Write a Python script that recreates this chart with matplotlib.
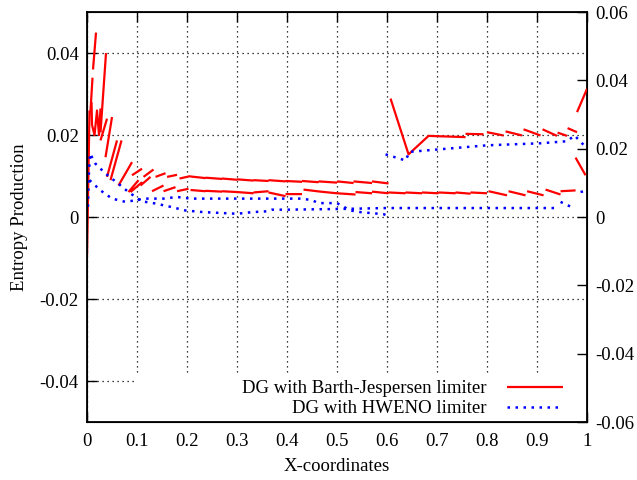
import matplotlib
matplotlib.use("Agg")
import matplotlib.pyplot as plt
from matplotlib.patches import Rectangle
import numpy as np

nan = np.nan

# DG with Barth-Jespersen limiter: piecewise linear cells, nan breaks the line between cells
red_x = [0.000, 0.005, nan, 0.007, 0.011, nan, 0.012, 0.018, nan,
         0.009, 0.010, 0.015, 0.020, 0.024, 0.027, nan,
         0.027, 0.038, nan, 0.027, 0.040, nan, 0.037, 0.050, nan,
         0.040, 0.060, nan, 0.047, 0.069, nan, 0.063, 0.090, nan,
         0.083, 0.103, nan, 0.090, 0.110, nan, 0.113, 0.133, nan,
         0.137, 0.157, nan, 0.160, 0.180, nan, 0.185, 0.207, nan,
         0.087, 0.110, nan, 0.107, 0.127, nan, 0.130, 0.153, nan,
         0.153, 0.177, nan, 0.180, 0.203, nan,
         # upper branch 0.2 - 0.6
         0.207, 0.237, nan, 0.237, 0.270, nan, 0.270, 0.300, nan,
         0.300, 0.333, nan, 0.333, 0.363, nan, 0.363, 0.397, nan,
         0.397, 0.430, nan, 0.430, 0.463, nan, 0.463, 0.500, nan,
         0.500, 0.533, nan, 0.533, 0.570, nan, 0.570, 0.603, nan,
         # lower branch 0.2 - 1.0
         0.207, 0.237, nan, 0.237, 0.270, nan, 0.270, 0.300, nan,
         0.300, 0.333, nan, 0.333, 0.363, nan, 0.363, 0.397, nan,
         0.397, 0.430, nan, 0.433, 0.467, nan, 0.467, 0.500, nan,
         0.500, 0.537, nan, 0.537, 0.570, nan, 0.570, 0.603, nan,
         0.603, 0.637, nan, 0.637, 0.670, nan, 0.670, 0.703, nan,
         0.703, 0.737, nan, 0.737, 0.767, nan, 0.767, 0.800, nan,
         0.803, 0.840, nan, 0.843, 0.877, nan, 0.880, 0.913, nan,
         0.917, 0.947, nan, 0.947, 0.977, nan,
         # upper branch 0.6 - 1.0
         0.607, 0.643, 0.683, 0.757, nan, 0.757, 0.793, nan,
         0.800, 0.833, nan, 0.837, 0.870, nan, 0.873, 0.907, nan,
         0.911, 0.940, nan, 0.941, 0.960, nan, 0.961, 0.980, nan,
         0.980, 1.000, nan, 0.977, 0.997]
red_y = [-0.0094, 0.026, nan, 0.026, 0.034, nan, 0.036, 0.045, nan,
         0.028, 0.0225, 0.020, 0.026, 0.020, 0.0265, nan,
         0.0207, 0.040, nan, 0.0187, 0.024, nan, 0.0146, 0.0244, nan,
         0.0098, 0.0187, nan, 0.0090, 0.0187, nan, 0.0077, 0.0134, nan,
         0.0061, 0.0090, nan, 0.0102, 0.0118, nan, 0.0098, 0.0116, nan,
         0.0098, 0.0107, nan, 0.0098, 0.0103, nan, 0.0094, 0.0100, nan,
         0.0061, 0.0085, nan, 0.0077, 0.0098, nan, 0.0063, 0.0077, nan,
         0.0063, 0.0073, nan, 0.0063, 0.0069, nan,
         0.0099, 0.0095, nan, 0.0096, 0.0093, nan, 0.0094, 0.0091, nan,
         0.0092, 0.0089, nan, 0.0090, 0.0088, nan, 0.0090, 0.0087, nan,
         0.0088, 0.0086, nan, 0.0088, 0.0085, nan, 0.0087, 0.0084, nan,
         0.0087, 0.0083, nan, 0.0087, 0.0083, nan, 0.0087, 0.0082, nan,
         0.0066, 0.0063, nan, 0.0064, 0.0062, nan, 0.0063, 0.0061, nan,
         0.0061, 0.0058, nan, 0.0060, 0.0063, nan, 0.0060, 0.0051, nan,
         0.0056, 0.0056, nan, 0.0067, 0.0062, nan, 0.0062, 0.0058, nan,
         0.0058, 0.0055, nan, 0.0061, 0.0058, nan, 0.0062, 0.0058, nan,
         0.0060, 0.0058, nan, 0.0060, 0.0058, nan, 0.0060, 0.0058, nan,
         0.0060, 0.0058, nan, 0.0060, 0.0057, nan, 0.0060, 0.0058, nan,
         0.0063, 0.0053, nan, 0.0063, 0.0053, nan, 0.0063, 0.0053, nan,
         0.0067, 0.0055, nan, 0.0063, 0.0065, nan,
         0.0289, 0.0153, 0.0198, 0.0195, nan, 0.0203, 0.0202, nan,
         0.0207, 0.0199, nan, 0.0209, 0.0199, nan, 0.0214, 0.0199, nan,
         0.0214, 0.0198, nan, 0.0206, 0.0198, nan, 0.0217, 0.0207, nan,
         0.0256, 0.0313, nan, 0.0145, 0.0102]

# DG with HWENO limiter
blue_x = [0.002, 0.003, 0.006, 0.017, 0.037, 0.063, 0.083, 0.097, 0.107, 0.137,
          0.167, 0.197, 0.233, 0.267, 0.300, 0.330, 0.360, 0.370, 0.400, 0.520,
          0.600, 0.700, 0.800, 0.900, 0.945, nan,
          0.947, 0.973, nan, 0.987, 1.000, nan,
          0.005, 0.027, 0.050, 0.077, 0.097, 0.113, 0.153, 0.180, 0.207, 0.330,
          0.430, 0.450, 0.463, 0.500, 0.527, 0.547, 0.593, 0.600, nan,
          0.597, 0.637, 0.645, 0.683, 0.800, 0.907, 0.960, 0.975, 0.997]
blue_y = [0.0025, 0.0090, 0.0155, 0.0130, 0.0106, 0.0081, 0.0061, 0.0049, 0.0039, 0.0033,
          0.0025, 0.0016, 0.0012, 0.0010, 0.0008, 0.0012, 0.0014, 0.0018, 0.0018, 0.0020,
          0.0022, 0.0022, 0.0022, 0.0022, 0.0022, nan,
          0.0037, 0.0022, nan, 0.0061, 0.0065, nan,
          0.0090, 0.0065, 0.0045, 0.0037, 0.0041, 0.0045, 0.0045, 0.0049, 0.0045, 0.0045,
          0.0045, 0.0041, 0.0034, 0.0034, 0.0016, 0.0012, 0.0007, 0.0004, nan,
          0.0153, 0.0138, 0.0159, 0.0163, 0.0175, 0.0180, 0.0185, 0.0199, 0.0171]

x_ticks = [0, 0.1, 0.2, 0.3, 0.4, 0.5, 0.6, 0.7, 0.8, 0.9, 1]
x_labels = ["0", "0.1", "0.2", "0.3", "0.4", "0.5", "0.6", "0.7", "0.8", "0.9", "1"]
y_ticks = [-0.04, -0.02, 0, 0.02, 0.04]
y_labels = ["-0.04", "-0.02", "0", "0.02", "0.04"]
y2_ticks = [-0.06, -0.04, -0.02, 0, 0.02, 0.04, 0.06]
y2_labels = ["-0.06", "-0.04", "-0.02", "0", "0.02", "0.04", "0.06"]

plt.rcParams["font.family"] = ["Liberation Serif", "DejaVu Serif"]
plt.rcParams["font.size"] = 13.5

fig = plt.figure(figsize=(6.37, 4.8), dpi=100)
ax = fig.add_axes([0.1366, 0.1208, 0.785, 0.854])

ax.plot(red_x, red_y, color="red", lw=1.6, solid_capstyle="butt",
        label="DG with Barth-Jespersen limiter", zorder=3)
ax.plot(blue_x, blue_y, color="blue", lw=1.8, linestyle=(0, (1, 2.2)),
        label="DG with HWENO limiter", zorder=3)

ax.set_xlim(0, 1)
ax.set_ylim(-0.05, 0.05)
ax.set_xticks(x_ticks)
ax.set_xticklabels(x_labels)
ax.set_yticks(y_ticks)
ax.set_yticklabels(y_labels)
ax.tick_params(axis="x", direction="in", length=7, width=1, top=True, pad=8)
ax.tick_params(axis="y", direction="in", length=7, width=1, right=False, pad=6)
ax.grid(True, color="black", linestyle=(0, (1, 3)), lw=0.9)
ax.set_axisbelow(True)
for s in ax.spines.values():
    s.set_linewidth(1.3)

ax2 = ax.twinx()
ax2.set_ylim(-0.06, 0.06)
ax2.set_yticks(y2_ticks)
ax2.set_yticklabels(y2_labels)
ax2.tick_params(axis="y", direction="in", length=7, width=1, pad=6)

ax.set_xlabel("X-coordinates", labelpad=6)
ax.set_ylabel("Entropy Production", labelpad=8)

# opaque key area like gnuplot
ax.add_patch(Rectangle((0.097, 0.0), 0.903, 0.118, transform=ax.transAxes,
                       facecolor="white", edgecolor="none", zorder=1.5))
ax.legend(loc="lower right", bbox_to_anchor=(0.952, 0.012), markerfirst=False,
          frameon=False, handlelength=3.0, handletextpad=1.1,
          labelspacing=0.15, borderaxespad=0.0, borderpad=0.0)

fig.savefig("out.png", dpi=100)
